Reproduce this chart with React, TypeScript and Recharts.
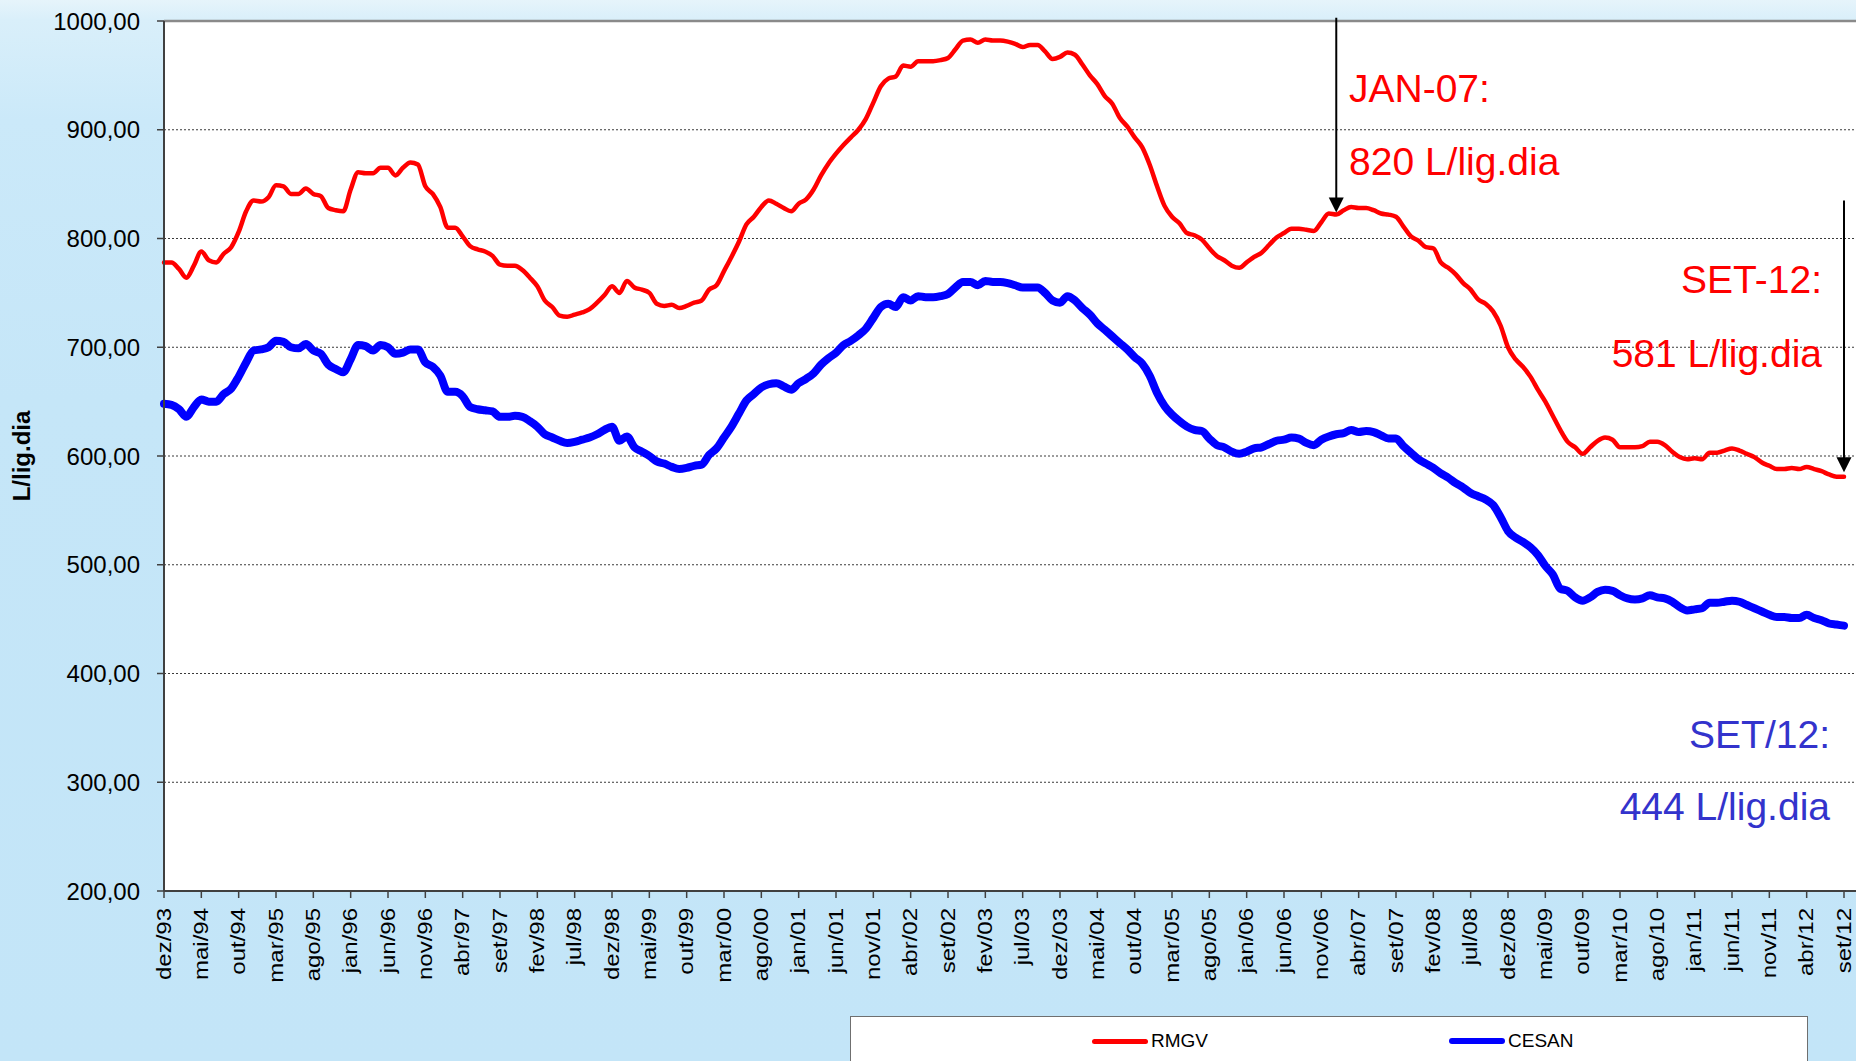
import React from 'react';
import { LineChart, Line, XAxis, YAxis, CartesianGrid, ReferenceLine, Legend } from 'recharts';

// Monthly categories: dez/93 .. set/12
const CATEGORIES: string[] = [
  'dez/93',
  'jan/94','fev/94','mar/94','abr/94','mai/94','jun/94','jul/94','ago/94','set/94','out/94','nov/94','dez/94',
  'jan/95','fev/95','mar/95','abr/95','mai/95','jun/95','jul/95','ago/95','set/95','out/95','nov/95','dez/95',
  'jan/96','fev/96','mar/96','abr/96','mai/96','jun/96','jul/96','ago/96','set/96','out/96','nov/96','dez/96',
  'jan/97','fev/97','mar/97','abr/97','mai/97','jun/97','jul/97','ago/97','set/97','out/97','nov/97','dez/97',
  'jan/98','fev/98','mar/98','abr/98','mai/98','jun/98','jul/98','ago/98','set/98','out/98','nov/98','dez/98',
  'jan/99','fev/99','mar/99','abr/99','mai/99','jun/99','jul/99','ago/99','set/99','out/99','nov/99','dez/99',
  'jan/00','fev/00','mar/00','abr/00','mai/00','jun/00','jul/00','ago/00','set/00','out/00','nov/00','dez/00',
  'jan/01','fev/01','mar/01','abr/01','mai/01','jun/01','jul/01','ago/01','set/01','out/01','nov/01','dez/01',
  'jan/02','fev/02','mar/02','abr/02','mai/02','jun/02','jul/02','ago/02','set/02','out/02','nov/02','dez/02',
  'jan/03','fev/03','mar/03','abr/03','mai/03','jun/03','jul/03','ago/03','set/03','out/03','nov/03','dez/03',
  'jan/04','fev/04','mar/04','abr/04','mai/04','jun/04','jul/04','ago/04','set/04','out/04','nov/04','dez/04',
  'jan/05','fev/05','mar/05','abr/05','mai/05','jun/05','jul/05','ago/05','set/05','out/05','nov/05','dez/05',
  'jan/06','fev/06','mar/06','abr/06','mai/06','jun/06','jul/06','ago/06','set/06','out/06','nov/06','dez/06',
  'jan/07','fev/07','mar/07','abr/07','mai/07','jun/07','jul/07','ago/07','set/07','out/07','nov/07','dez/07',
  'jan/08','fev/08','mar/08','abr/08','mai/08','jun/08','jul/08','ago/08','set/08','out/08','nov/08','dez/08',
  'jan/09','fev/09','mar/09','abr/09','mai/09','jun/09','jul/09','ago/09','set/09','out/09','nov/09','dez/09',
  'jan/10','fev/10','mar/10','abr/10','mai/10','jun/10','jul/10','ago/10','set/10','out/10','nov/10','dez/10',
  'jan/11','fev/11','mar/11','abr/11','mai/11','jun/11','jul/11','ago/11','set/11','out/11','nov/11','dez/11',
  'jan/12','fev/12','mar/12','abr/12','mai/12','jun/12','jul/12','ago/12','set/12',
];

// RMGV (L/lig.dia)
const RMGV: number[] = [
  778, 778, 772, 764, 775, 788, 780, 778, 786, 792,
  806, 825, 835, 834, 838, 849, 848, 841, 841, 846,
  841, 839, 828, 826, 825, 845, 861, 860, 860, 865,
  865, 858, 865, 870, 868, 848, 841, 829, 810, 810,
  802, 793, 790, 788, 784, 776, 775, 775, 771, 764,
  756, 743, 737, 729, 728, 730, 732, 735, 741, 748,
  756, 750, 761, 755, 753, 750, 740, 738, 739, 736,
  738, 741, 743, 753, 757, 770, 783, 797, 813, 820,
  829, 835, 832, 828, 825, 832, 836, 845, 858, 869,
  878, 886, 893, 900, 910, 925, 940, 947, 949, 959,
  958, 963, 963, 963, 964, 966, 974, 982, 983, 980,
  983, 982, 982, 981, 979, 976, 978, 978, 972, 965,
  967, 971, 969, 960, 950, 942, 931, 924, 911, 903,
  893, 884, 868, 848, 830, 820, 814, 805, 803, 799,
  791, 784, 780, 775, 773, 778, 783, 787, 794, 801,
  805, 809, 809, 808, 807, 815, 823, 822, 826, 829,
  828, 828, 826, 823, 822, 820, 811, 802, 798, 792,
  791, 778, 773, 767, 759, 753, 744, 740, 733, 720,
  700, 689, 682, 673, 661, 650, 637, 624, 613, 608,
  602, 608, 614, 617, 615, 608, 608, 608, 609, 613,
  613, 610, 604, 599, 597, 598, 597, 603, 603, 605,
  607, 605, 602, 599, 594, 591, 588, 588, 589, 588,
  590, 588, 586, 583, 581, 581,
];

// CESAN (L/lig.dia)
const CESAN: number[] = [
  648, 647, 643, 636, 645, 652, 650, 650, 657, 662,
  673, 686, 697, 698, 700, 706, 705, 700, 699, 703,
  697, 694, 684, 680, 677, 689, 702, 701, 697, 702,
  700, 694, 695, 698, 698, 686, 682, 674, 659, 659,
  655, 645, 643, 642, 641, 636, 636, 637, 636, 632,
  627, 620, 617, 614, 612, 613, 615, 617, 620, 624,
  627, 614, 618, 608, 604, 600, 595, 593, 590, 588,
  589, 591, 592, 601, 607, 617, 627, 639, 651, 657,
  663, 666, 667, 664, 661, 667, 671, 676, 684, 690,
  695, 702, 706, 711, 717, 727, 737, 740, 737, 746,
  743, 747, 746, 746, 747, 749, 755, 760, 760, 757,
  761, 760, 760, 759, 757, 755, 755, 755, 750, 743,
  741, 747, 743, 736, 730, 722, 716, 710, 704, 698,
  691, 685, 674, 658, 646, 638, 632, 627, 624, 623,
  616, 610, 608, 604, 602, 604, 607, 608, 611, 614,
  615, 617, 616, 612, 610, 615, 618, 620, 621, 624,
  622, 623, 622, 619, 616, 616, 609, 603, 597, 593,
  589, 584, 580, 575, 571, 566, 563, 560, 555, 544,
  531, 525, 521, 516, 509, 499, 491, 478, 476, 470,
  467, 470, 475, 477, 476, 472, 469, 468, 469, 472,
  470, 469, 466, 461, 458, 459, 460, 465, 465, 466,
  467, 466, 463, 460, 457, 454, 452, 452, 451, 451,
  454, 451, 449, 446, 445, 444,
];

const Y_TICKS: number[] = [200, 300, 400, 500, 600, 700, 800, 900, 1000];

const SERIES = [
  { key: 'RMGV', color: '#FF0000', width: 4.5 },
  { key: 'CESAN', color: '#0000FF', width: 8 },
];

// Annotation arrows (category, from value, to value)
const ARROWS = [
  { month: 'jan/07', from: 1003, to: 824 },
  { month: 'set/12', from: 835, to: 585 },
];

const data = CATEGORIES.map((m, i) => ({ month: m, RMGV: RMGV[i], CESAN: CESAN[i] }));

const FONT = "'Liberation Sans', Arial, Helvetica, sans-serif";

const XTick = (props: any) => {
  const { x, y, payload } = props;
  return (
    <g transform={`translate(${x},${y})`}>
      <text
        transform="rotate(-90) scale(1.2,1)"
        textAnchor="end"
        dominantBaseline="central"
        fontSize={20}
        fontFamily={FONT}
        fill="#000"
      >
        {payload.value}
      </text>
    </g>
  );
};

const ArrowShape = (p: any) => {
  const x = p.x1;
  const top = Math.min(p.y1, p.y2);
  const tip = Math.max(p.y1, p.y2);
  return (
    <g>
      <line x1={x} y1={top} x2={x} y2={tip - 12} stroke="#000" strokeWidth={2} />
      <polygon points={`${x - 7.5},${tip - 15} ${x + 7.5},${tip - 15} ${x},${tip}`} fill="#000" />
    </g>
  );
};

const LegendBox = (props: any) => {
  const payload: any[] = props.payload || [];
  const pos: Record<string, number> = { RMGV: 241, CESAN: 598 };
  return (
    <div
      style={{
        position: 'relative',
        width: 958,
        height: 60,
        background: '#fff',
        border: '1.5px solid #6f6f6f',
        boxSizing: 'border-box',
        fontFamily: FONT,
      }}
    >
      {payload.map((item) => {
        const k = String(item.dataKey ?? item.value);
        const w = k === 'CESAN' ? 6 : 5;
        return (
          <div key={k} style={{ position: 'absolute', left: pos[k], top: 13, height: 22, display: 'flex', alignItems: 'center' }}>
            <div style={{ width: 56, height: w, borderRadius: 3, background: item.color }} />
            <span style={{ fontSize: 19, color: '#000', marginLeft: 3, lineHeight: '22px' }}>{item.value}</span>
          </div>
        );
      })}
    </div>
  );
};

export default function App() {
  return (
    <div
      style={{
        position: 'absolute',
        left: 0,
        top: 0,
        width: 1856,
        height: 1061,
        overflow: 'hidden',
        background:
          'linear-gradient(180deg, #e6f4fb 0px, #d9effa 20px, #cbe9f9 120px, #c5e6f8 400px, #c3e5f8 100%)',
        fontFamily: FONT,
      }}
    >
      <LineChart
        width={1856}
        height={1061}
        data={data}
        margin={{ top: 21, right: 0, left: 0, bottom: 50 }}
      >
        <CartesianGrid vertical={false} horizontal stroke="#3a3a3a" strokeDasharray="2 2" fill="#ffffff" />
        <XAxis
          dataKey="month"
          interval={4}
          height={120}
          tick={<XTick />}
          tickSize={7}
          tickMargin={10}
          padding={{ left: 0, right: 12 }}
          axisLine={{ stroke: '#404040', strokeWidth: 2 }}
          tickLine={{ stroke: '#404040', strokeWidth: 1.5 }}
        />
        <YAxis
          domain={[200, 1000]}
          ticks={Y_TICKS}
          allowDataOverflow
          width={164}
          tickSize={7}
          tickMargin={17}
          tickFormatter={(v: number) => v.toFixed(2).replace('.', ',')}
          tick={{ fontSize: 24, fill: '#000', fontFamily: FONT }}
          axisLine={{ stroke: '#404040', strokeWidth: 2 }}
          tickLine={{ stroke: '#404040', strokeWidth: 1.5 }}
          label={{
            value: 'L/lig.dia',
            content: (p: any) => {
              const vb = p.viewBox || { y: 21, height: 870 };
              const cy = vb.y + vb.height / 2;
              return (
                <text
                  x={21}
                  y={cy}
                  transform={`rotate(-90, 21, ${cy})`}
                  textAnchor="middle"
                  dominantBaseline="central"
                  fontSize={24}
                  fontWeight="bold"
                  fontFamily={FONT}
                  fill="#000"
                >
                  L/lig.dia
                </text>
              );
            },
          }}
        />
        <ReferenceLine y={1000} stroke="#8a8a8a" strokeWidth={2.5} />
        {SERIES.map((s) => (
          <Line
            key={s.key}
            dataKey={s.key}
            name={s.key}
            type="monotone"
            stroke={s.color}
            strokeWidth={s.width}
            strokeLinejoin="round"
            strokeLinecap="round"
            dot={false}
            activeDot={false}
            isAnimationActive={false}
          />
        ))}
        {ARROWS.map((a) => (
          <ReferenceLine
            key={a.month}
            segment={[{ x: a.month, y: a.from }, { x: a.month, y: a.to }]}
            ifOverflow="visible"
            shape={ArrowShape}
          />
        ))}
        <Legend
          layout="horizontal"
          verticalAlign="middle"
          align="center"
          wrapperStyle={{ left: 850, top: 1016, width: 958, height: 60 }}
          content={LegendBox}
        />
      </LineChart>
      <svg
        width={1856}
        height={1061}
        style={{ position: 'absolute', left: 0, top: 0, pointerEvents: 'none' }}
      >
        <g fontFamily={FONT} fontSize={39}>
          <text x={1349} y={102} fill="#FF0000">JAN-07:</text>
          <text x={1349} y={175} fill="#FF0000">820 L/lig.dia</text>
          <text x={1822} y={293} fill="#FF0000" textAnchor="end">SET-12:</text>
          <text x={1822} y={367} fill="#FF0000" textAnchor="end">581 L/lig.dia</text>
          <text x={1830} y={748} fill="#3333CC" textAnchor="end">SET/12:</text>
          <text x={1830} y={820} fill="#3333CC" textAnchor="end">444 L/lig.dia</text>
        </g>
      </svg>
    </div>
  );
}
